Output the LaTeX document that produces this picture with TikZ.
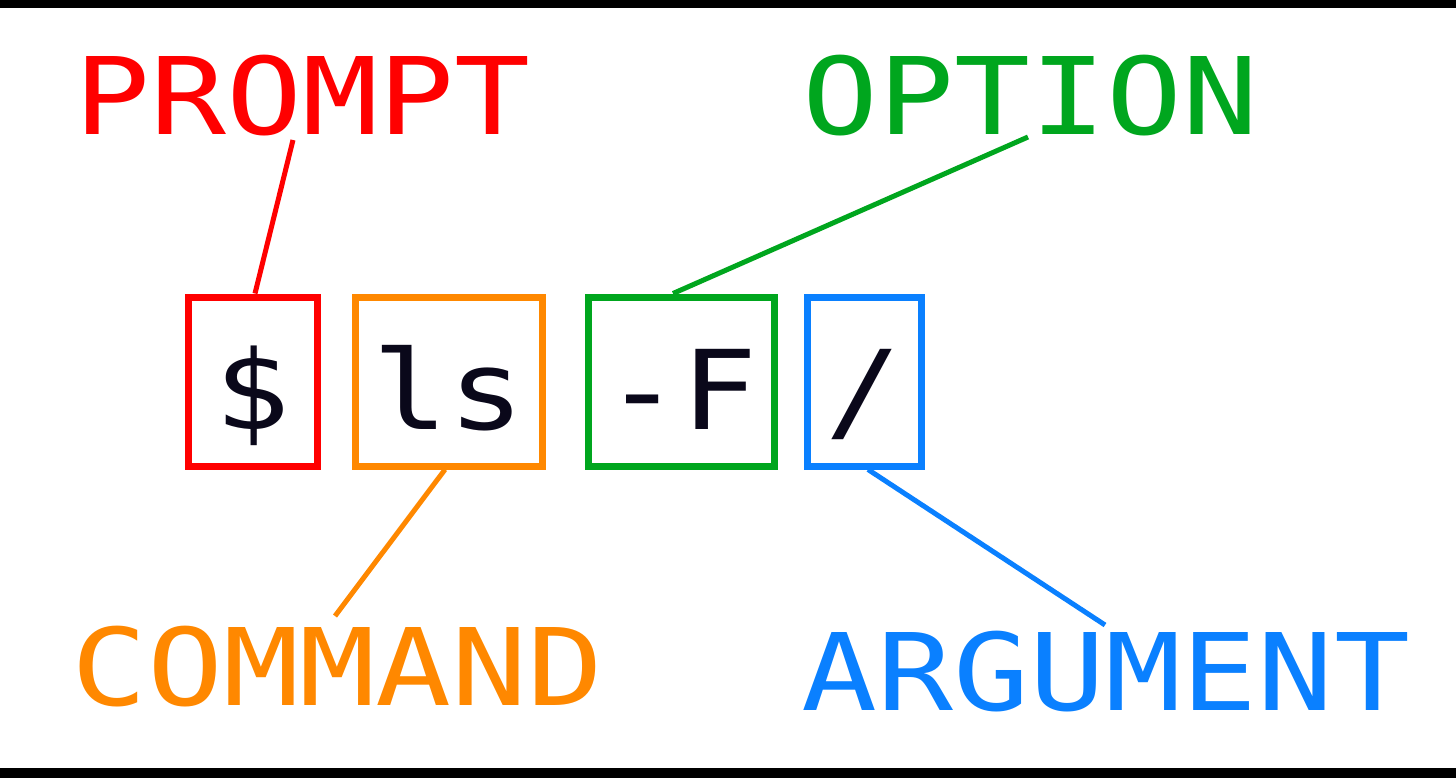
\documentclass[tikz,border=0pt]{standalone}
\usepackage{fontspec}
\usetikzlibrary{calc}
\newfontfamily\monofont[FakeStretch=1.15]{DejaVu Sans Mono}
\newfontfamily\labelfont[FakeStretch=1.18]{DejaVu Sans Mono}
\definecolor{promptred}{RGB}{255,0,0}
\definecolor{cmdorange}{RGB}{255,136,0}
\definecolor{optgreen}{RGB}{0,166,30}
\definecolor{argblue}{RGB}{10,128,255}
\definecolor{ink}{RGB}{10,8,26}

\begin{document}
\begin{tikzpicture}[x=1pt, y=-1pt,
    kasten/.style={draw, line width=7pt, minimum height=169pt, inner sep=0pt,
        text height=95pt, text depth=0pt, text=ink,
        font=\monofont\fontsize{110}{120}\selectfont},
    etikett/.style={anchor=base, inner sep=0pt, font=\labelfont\fontsize{107}{120}\selectfont},
    linie/.style={line width=5pt}]
    \useasboundingbox (0,0) rectangle (1456,778);
    % Rand oben und unten
    \fill[black] (0,0) rectangle (1456,8);
    \fill[black] (0,768) rectangle (1456,778);

    % Die vier Kaesten mit dem Befehl
    \foreach \n/\t/\c/\x/\w in {dollar/\$/promptred/252.5/129, ls/ls/cmdorange/448.5/187,
                              opt/-F/optgreen/681/186, arg/{/}/argblue/864/114} {
        \node[kasten, draw=\c, minimum width=\w pt] (\n) at (\x,381.5) {\t};
    }

    % Beschriftungen
    \node[etikett, promptred] (prompt) at (302.5,135) {PROMPT};
    \node[etikett, optgreen] (option) at (1030.5,135) {OPTION};
    \node[etikett, cmdorange] (command) at (338,705) {COMMAND};
    \node[etikett, argblue] (argument) at (1106,710) {ARGUMENT};

    % Verbindungslinien
    \draw[linie, promptred] ($(prompt.base)+(-9.5,5)$) -- ($(dollar.north)+(2.5,0)$);
    \draw[linie, optgreen] ($(option.base)+(-2.5,2)$) -- ($(opt.north)+(-8,0)$);
    \draw[linie, cmdorange] ($(ls.south)+(-3.5,0)$) -- ($(command.base)+(-3,-89)$);
    \draw[linie, argblue] ($(arg.south)+(4,0)$) -- ($(argument.base)+(-1,-85)$);
\end{tikzpicture}
\end{document}
